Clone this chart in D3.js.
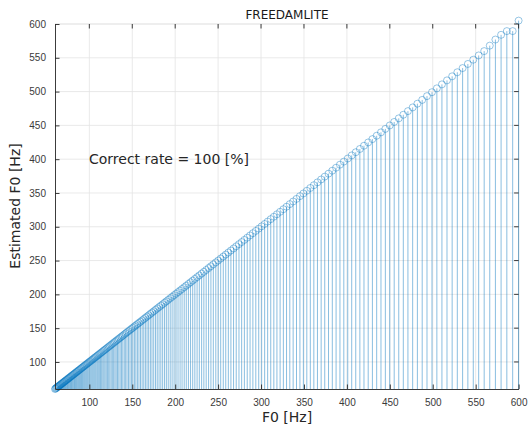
<!DOCTYPE html>
<html lang="en">
<head>
    <meta charset="UTF-8">
    <title>FREEDAMLITE</title>
    <script src="https://d3js.org/d3.v7.min.js"></script>
    <style>
        body {
            margin: 0;
            background: #fff;
        }

        svg {
            font-family: "DejaVu Sans", sans-serif;
        }

        .tick-label {
            font-size: 10px;
            fill: #3a3a3a;
        }

        .axis-label {
            font-size: 14px;
            fill: #262626;
        }
    </style>
</head>
<body>

<svg id="chart" width="528" height="427"></svg>

<script>
    // F0 values of the test tones [Hz]
    const f0 = [
        60.0, 60.7, 61.4, 62.1, 62.8, 63.6, 64.3, 65.0, 65.8, 66.6,
        67.3, 68.1, 68.9, 69.7, 70.5, 71.3, 72.1, 73.0, 73.8, 74.7,
        75.5, 76.4, 77.3, 78.2, 79.1, 80.0, 80.9, 81.9, 82.8, 83.8,
        84.8, 85.7, 86.7, 87.7, 88.7, 89.8, 90.8, 91.9, 92.9, 94.0,
        95.1, 96.2, 97.3, 98.4, 99.6, 100.7, 101.9, 103.1, 104.3, 105.5,
        106.7, 107.9, 109.2, 110.4, 111.7, 113.0, 114.3, 115.7, 117.0, 118.3,
        119.7, 121.1, 122.5, 123.9, 125.4, 126.8, 128.3, 129.8, 131.3, 132.8,
        134.3, 135.9, 137.5, 139.0, 140.7, 142.3, 143.9, 145.6, 147.3, 149.0,
        150.7, 152.5, 154.2, 156.0, 157.8, 159.6, 161.5, 163.4, 165.3, 167.2,
        169.1, 171.1, 173.0, 175.0, 177.1, 179.1, 181.2, 183.3, 185.4, 187.6,
        189.7, 191.9, 194.2, 196.4, 198.7, 201.0, 203.3, 205.7, 208.0, 210.5,
        212.9, 215.4, 217.9, 220.4, 222.9, 225.5, 228.1, 230.8, 233.4, 236.1,
        238.9, 241.6, 244.4, 247.3, 250.1, 253.0, 256.0, 258.9, 261.9, 264.9,
        268.0, 271.1, 274.3, 277.4, 280.6, 283.9, 287.2, 290.5, 293.9, 297.3,
        300.7, 304.2, 307.7, 311.3, 314.9, 318.5, 322.2, 326.0, 329.7, 333.5,
        337.4, 341.3, 345.3, 349.3, 353.3, 357.4, 361.5, 365.7, 370.0, 374.2,
        378.6, 383.0, 387.4, 391.9, 396.4, 401.0, 405.6, 410.3, 415.1, 419.9,
        424.8, 429.7, 434.7, 439.7, 444.8, 449.9, 455.1, 460.4, 465.7, 471.1,
        476.6, 482.1, 487.7, 493.3, 499.1, 504.8, 510.7, 516.6, 522.6, 528.6,
        534.8, 540.9, 547.2, 553.5, 559.9, 566.4, 573.0, 579.6, 586.3, 593.1,
        600.0
    ];

    // estimates that differ from the true F0 (all others are equal)
    const estOffTrue = [566.4, 573.0, 579.6, 586.3, 593.1, 600.0];
    const estOffValue = [568.0, 577.0, 584.0, 589.5, 589.5, 605.0];

    const xTicks = [100, 150, 200, 250, 300, 350, 400, 450, 500, 550, 600];
    const yTicks = [100, 150, 200, 250, 300, 350, 400, 450, 500, 550, 600];

    const titleText = "FREEDAMLITE";
    const rateText = "Correct rate = 100 [%]";

    const points = f0.map(f => {
        const k = estOffTrue.indexOf(f);
        return { f0: f, est: k >= 0 ? estOffValue[k] : f };
    });

    const margin = { top: 24, right: 9.4, bottom: 38, left: 55 },
          width = 528 - margin.left - margin.right,
          height = 427 - margin.top - margin.bottom;

    const svg = d3.select("#chart");
    const g = svg.append("g")
                 .attr("transform", `translate(${margin.left},${margin.top})`);

    const x = d3.scaleLinear().domain([60, 600]).range([0, width]);
    const y = d3.scaleLinear().domain([60, 600]).range([height, 0]);

    // grid
    g.append("g").selectAll("line")
     .data(xTicks.slice(0, -1))
     .join("line")
     .attr("x1", d => x(d)).attr("x2", d => x(d))
     .attr("y1", 0).attr("y2", height)
     .attr("stroke", "#e3e3e3").attr("stroke-width", 0.8);

    g.append("g").selectAll("line")
     .data(yTicks.slice(0, -1))
     .join("line")
     .attr("x1", 0).attr("x2", width)
     .attr("y1", d => y(d)).attr("y2", d => y(d))
     .attr("stroke", "#e3e3e3").attr("stroke-width", 0.8);

    // top / right box edges
    g.append("line").attr("x1", 0).attr("x2", width).attr("y1", 0).attr("y2", 0)
     .attr("stroke", "#d4d4d4").attr("stroke-width", 0.8);
    g.append("line").attr("x1", width).attr("x2", width).attr("y1", 0).attr("y2", height)
     .attr("stroke", "#b8b8b8").attr("stroke-width", 0.8);

    // stems
    g.append("g").selectAll("line")
     .data(points)
     .join("line")
     .attr("x1", d => x(d.f0)).attr("x2", d => x(d.f0))
     .attr("y1", y(60)).attr("y2", d => y(d.est))
     .attr("stroke", "#0072BD").attr("stroke-width", 0.55)
     .attr("stroke-opacity", 0.85);

    // markers
    g.append("g").selectAll("circle")
     .data(points)
     .join("circle")
     .attr("cx", d => x(d.f0))
     .attr("cy", d => y(d.est))
     .attr("r", 3.5)
     .attr("fill", "none")
     .attr("stroke", "#0072BD")
     .attr("stroke-width", 0.5)
     .attr("stroke-opacity", 0.8);

    // axes
    const xAxis = g.append("g")
                   .attr("transform", `translate(0,${height})`)
                   .call(d3.axisBottom(x).tickValues(xTicks).tickSizeInner(-4.5).tickSizeOuter(0).tickPadding(10));
    const yAxis = g.append("g")
                   .call(d3.axisLeft(y).tickValues(yTicks).tickSizeInner(-4.5).tickSizeOuter(0).tickPadding(9));

    [xAxis, yAxis].forEach(a => {
        a.select(".domain").attr("stroke", "#262626").attr("stroke-width", 0.9);
        a.selectAll(".tick line").attr("stroke", "#262626").attr("stroke-width", 0.9);
        a.selectAll(".tick text").attr("class", "tick-label").attr("font-family", null).attr("font-size", null);
    });

    // ticks on top and right edges
    g.append("g").selectAll("line")
     .data(xTicks)
     .join("line")
     .attr("x1", d => x(d)).attr("x2", d => x(d))
     .attr("y1", 0).attr("y2", 4.5)
     .attr("stroke", "#262626").attr("stroke-width", 0.9);
    g.append("g").selectAll("line")
     .data(yTicks)
     .join("line")
     .attr("x1", width - 4.5).attr("x2", width)
     .attr("y1", d => y(d)).attr("y2", d => y(d))
     .attr("stroke", "#262626").attr("stroke-width", 0.9);

    // texts
    svg.append("text")
       .attr("x", 287).attr("y", 18.5)
       .attr("text-anchor", "middle")
       .attr("font-size", 12)
       .attr("fill", "#1a1a1a")
       .text(titleText);

    svg.append("text")
       .attr("class", "axis-label")
       .attr("x", 89).attr("y", 164)
       .attr("fill", "#000")
       .text(rateText);

    svg.append("text")
       .attr("class", "axis-label")
       .attr("x", 287).attr("y", 422)
       .attr("text-anchor", "middle")
       .text("F0 [Hz]");

    svg.append("text")
       .attr("class", "axis-label")
       .attr("transform", "translate(20,206) rotate(-90)")
       .attr("text-anchor", "middle")
       .text("Estimated F0 [Hz]");
</script>

</body>
</html>
